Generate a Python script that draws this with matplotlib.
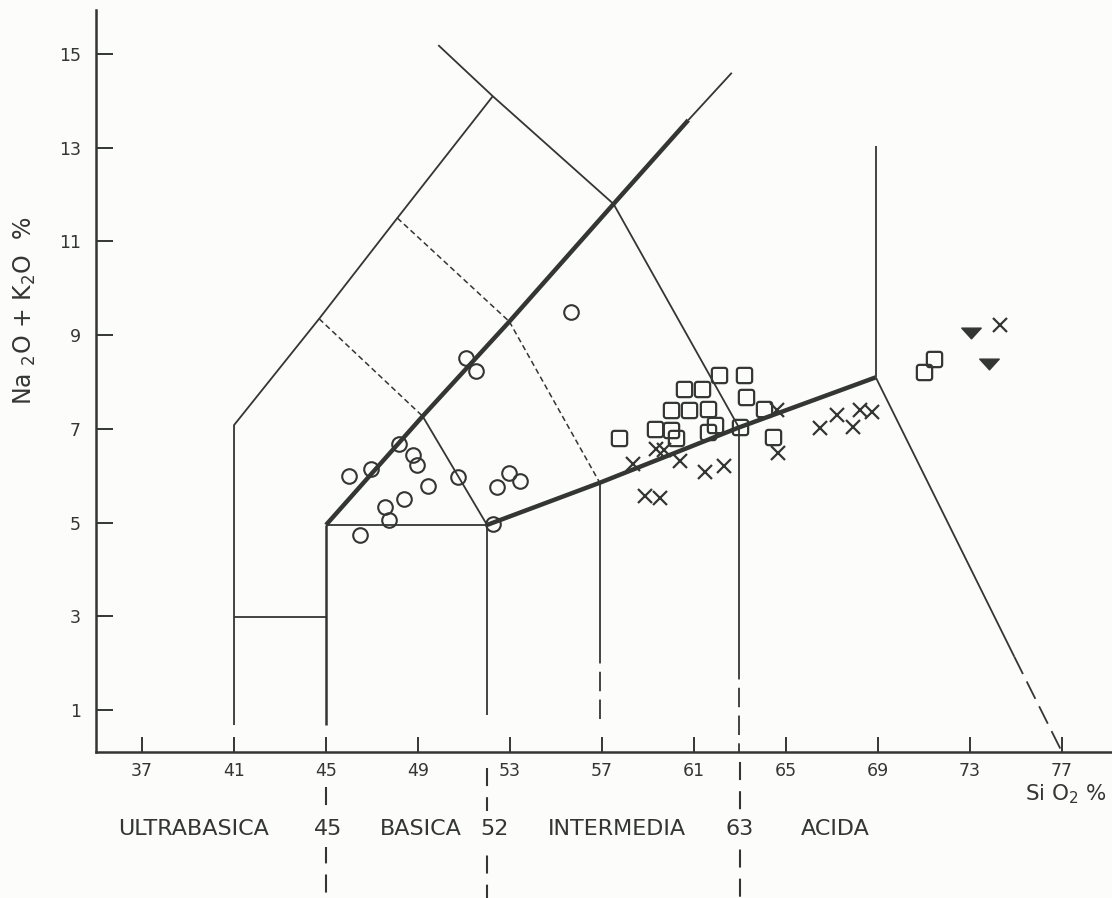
import numpy as np
import matplotlib
matplotlib.use("Agg")
import matplotlib.pyplot as plt
from matplotlib.path import Path

plt.rcParams["font.family"] = ["DejaVu Sans"]
plt.rcParams["lines.scale_dashes"] = False

INK = "#343634"
PAPER = "#fcfcfa"

# --- muestras ---
basica_x = [55.64, 51.07, 51.51, 48.17, 48.77, 48.94, 46.0, 46.94, 49.43,
            48.4, 47.57, 47.75, 46.48, 50.74, 52.42, 52.96, 53.43, 52.27]
basica_y = [9.50, 8.52, 8.23, 6.68, 6.44, 6.22, 6.0, 6.14, 5.78,
            5.5, 5.33, 5.05, 4.73, 5.97, 5.76, 6.05, 5.89, 4.96]

cuadro_x = [57.74, 59.32, 60.0, 60.22, 60.0, 60.78, 61.62, 60.58, 61.35, 62.07,
            63.16, 63.25, 64.06, 61.59, 61.93, 63.0, 64.45, 71.43, 71.01]
cuadro_y = [6.81, 6.99, 6.98, 6.81, 7.40, 7.40, 7.43, 7.85, 7.86, 8.15,
            8.15, 7.69, 7.43, 6.94, 7.08, 7.05, 6.83, 8.50, 8.22]

cruz_x = [58.36, 59.35, 59.71, 60.39, 61.47, 62.3, 58.88, 59.53, 64.6, 64.64,
          66.48, 67.23, 67.93, 68.22, 68.72, 74.3]
cruz_y = [6.24, 6.58, 6.55, 6.32, 6.07, 6.21, 5.57, 5.53, 7.40, 6.48,
          7.01, 7.29, 7.05, 7.40, 7.35, 9.22]

tri_x = [73.04, 73.84]
tri_y = [9.04, 8.38]

# --- limites del diagrama TAS ---
finas = [
    [(41, 0.68), (41, 7.08), (44.7, 9.35), (48.1, 11.5), (52.25, 14.1)],
    [(49.88, 15.19), (52.25, 14.1), (57.5, 11.8), (62.95, 7.03)],
    [(41, 2.99), (45, 2.99)],
    [(45, 4.95), (52.0, 4.95)],
    [(49.2, 7.27), (52.0, 4.95)],
    [(52.0, 4.95), (52.0, 0.89)],
    [(56.9, 5.85), (56.9, 2.4)],
    [(62.95, 7.03), (62.95, 2.07)],
    [(68.9, 8.1), (68.9, 13.04)],
    [(68.9, 8.1), (74.92, 2.14)],
    [(60.75, 13.59), (62.64, 14.6)],
]
gruesas = [
    [(45, 4.95), (49.2, 7.27), (52.97, 9.29), (57.5, 11.8), (60.75, 13.59)],
    [(52.0, 4.95), (56.9, 5.85), (62.95, 7.03), (68.9, 8.1)],
]
medias = [
    [(45, 4.95), (45, 0.68)],
]
punteadas = [
    [(44.7, 9.35), (49.2, 7.27)],
    [(48.1, 11.5), (52.97, 9.29)],
    [(52.97, 9.29), (56.9, 5.85)],
]
discontinuas = [
    [(56.9, 2.4), (56.9, 0.7)],
    [(62.95, 2.07), (62.95, 0.1)],
    [(74.92, 2.14), (77.0, 0.1)],
]
# divisiones bajo el eje (x, inicio)
divisiones = [45, 52, 63]
divisiones_ini = [-0.64, -0.23, -0.11]

clases = ["ULTRABASICA", "45", "BASICA", "52", "INTERMEDIA", "63", "ACIDA"]
clases_x = [39.22, 45.09, 49.1, 52.33, 57.63, 62.98, 67.15]

xticks = list(range(37, 78, 4))
yticks = list(range(1, 16, 2))


def cuadro_redondo(r=0.32, n=7):
    pts = []
    for cx, cy, a0 in [(1 - r, 1 - r, 0), (-1 + r, 1 - r, 90),
                       (-1 + r, -1 + r, 180), (1 - r, -1 + r, 270)]:
        for t in np.linspace(a0, a0 + 90, n):
            pts.append((cx + r * np.cos(np.radians(t)), cy + r * np.sin(np.radians(t))))
    pts.append(pts[0])
    return Path(pts, closed=True)


triangulo = Path([(-1, 0.55), (1, 0.55), (0, -0.55), (-1, 0.55)], closed=True)

fig = plt.figure(figsize=(11.12, 8.98), dpi=100, facecolor=PAPER)
ax = fig.add_axes([96 / 1112, 146 / 898, 1016 / 1112, 742 / 898])
ax.set_facecolor(PAPER)
ax.set_xlim(35.0, 79.17)
ax.set_ylim(0.104, 15.94)

for sp in ["top", "right"]:
    ax.spines[sp].set_visible(False)
for sp in ["left", "bottom"]:
    ax.spines[sp].set_color(INK)
    ax.spines[sp].set_linewidth(1.8)

ax.set_xticks(xticks)
ax.set_yticks(yticks)
ax.tick_params(axis="x", direction="in", length=11, width=1.4, color=INK,
               labelsize=12.5, labelcolor=INK, pad=7)
ax.tick_params(axis="y", direction="in", length=12, width=1.4, color=INK,
               labelsize=12.5, labelcolor=INK, pad=11)

for seg in finas:
    xs, ys = zip(*seg)
    ax.plot(xs, ys, color=INK, lw=1.3, solid_capstyle="butt", zorder=2)
for seg in medias:
    xs, ys = zip(*seg)
    ax.plot(xs, ys, color=INK, lw=1.8, solid_capstyle="butt", zorder=2)
for seg in gruesas:
    xs, ys = zip(*seg)
    ax.plot(xs, ys, color=INK, lw=3.2, solid_capstyle="butt",
            solid_joinstyle="round", zorder=3)
for seg in punteadas:
    xs, ys = zip(*seg)
    ax.plot(xs, ys, color=INK, lw=1.1, linestyle=(0, (4, 2.5)), zorder=2)
for seg in discontinuas:
    xs, ys = zip(*seg)
    ax.plot(xs, ys, color=INK, lw=1.3, linestyle=(0, (14, 6)), zorder=2)

for xd, y0 in zip(divisiones, divisiones_ini):
    ax.plot([xd, xd], [y0, -3.05], color=INK, lw=1.5,
            linestyle=(0, (13, 8)), clip_on=False, zorder=1)

for txt, xc in zip(clases, clases_x):
    ax.text(xc, -1.54, txt, ha="center", va="center", fontsize=16, color=INK,
            clip_on=False, zorder=4,
            bbox=dict(boxstyle="square,pad=0.35", fc=PAPER, ec="none"))

ax.plot(basica_x, basica_y, linestyle="none", marker="o", markersize=10.5,
        mfc="none", mec=INK, mew=1.5, zorder=5)
ax.plot(cuadro_x, cuadro_y, linestyle="none", marker=cuadro_redondo(),
        markersize=11, mfc="none", mec=INK, mew=1.6, zorder=5)
ax.plot(cruz_x, cruz_y, linestyle="none", marker="x", markersize=10,
        mec=INK, mew=1.6, zorder=5)
ax.plot(tri_x, tri_y, linestyle="none", marker=triangulo, markersize=14,
        mfc=INK, mec=INK, zorder=5)

ax.set_ylabel(r"Na $_2$O + K$_2$O  %", fontsize=17, color=INK)
ax.yaxis.set_label_coords(-0.057, 0.594)
ax.text(78.96, -0.8, r"Si O$_2$ %", ha="right", va="center", fontsize=15.5,
        color=INK, clip_on=False)

fig.savefig("out.png", dpi=100, facecolor=PAPER)
